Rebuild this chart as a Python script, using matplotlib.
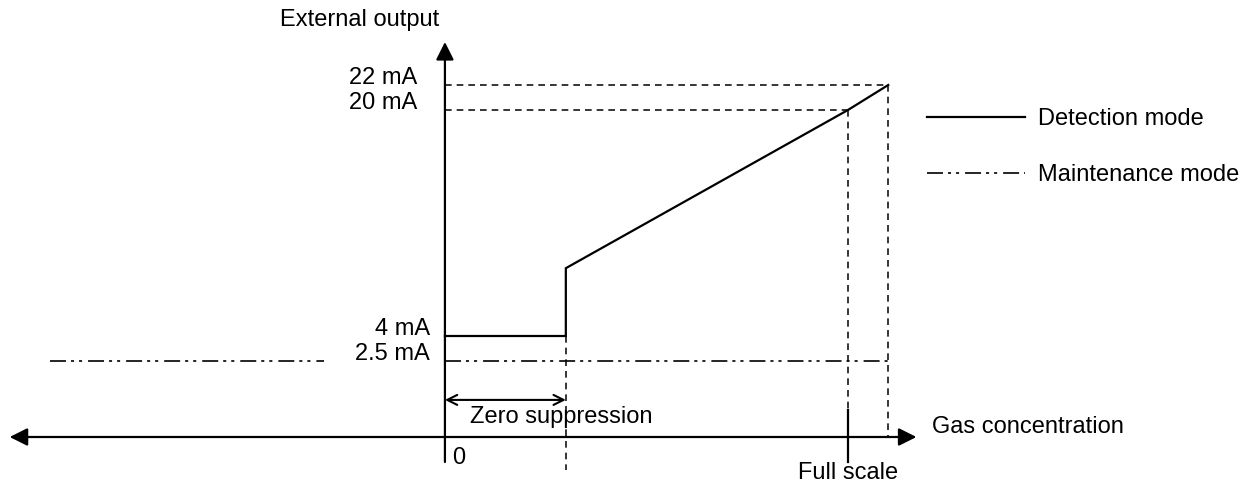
import matplotlib
matplotlib.use("Agg")
import matplotlib.pyplot as plt  # noqa: E402
import numpy as np  # noqa: E402

plt.rcParams["font.family"] = ["Liberation Sans", "DejaVu Sans"]
plt.rcParams["lines.scale_dashes"] = False

# gas concentration in % of full scale, external output in mA
detect_conc = [0, 30, 30, 100, 110]
detect_ma = [4, 4, 8.8, 20, 22]
maint_conc = [0, 110]
maint_conc_left = [-98, -30]
maint_ma = 2.5
level_ma = [22, 20, 4, 2.5]
level_labels = ["22 mA", "20 mA", "4 mA", "2.5 mA"]
zero_supp = 30
full_scale = 100
over_range = 110
fs_ma = 20
over_ma = 22

# schematic (not to scale) output axis: mA -> drawing height
scale_ma = [-10, 0, 2.5, 4, 20, 22, 40]
scale_h = [-304, 0, 76, 101, 327, 352, 577]


def fwd(v):
    return np.interp(v, scale_ma, scale_h)


def inv(h):
    return np.interp(h, scale_h, scale_ma)


fig = plt.figure(figsize=(12.57, 4.86), dpi=100)
ax = fig.add_axes([0, 0, 1, 1])
ax.set_xlim(-110.4, 201.5)
ax.set_yscale("function", functions=(fwd, inv))
ax.set_ylim(inv(-49), inv(437))
ax.axis("off")

FS = 17
dash = dict(color="black", lw=1.1, dashes=(4.8, 3.6))
dashdot = (11.5, 3.6, 2.2, 3.6, 2.2, 4.3)

# axes
ax.annotate("", xy=(117, 0), xytext=(-108, 0),
            arrowprops=dict(arrowstyle="<|-|>", color="black", lw=1.6,
                            mutation_scale=27, shrinkA=0, shrinkB=0))
ax.annotate("", xy=(0, 25.44), xytext=(0, inv(-25)),
            arrowprops=dict(arrowstyle="-|>", color="black", lw=1.6,
                            mutation_scale=27, shrinkA=0, shrinkB=0))

# guide lines
ax.plot([0, over_range], [over_ma, over_ma], **dash)
ax.plot([0, full_scale], [fs_ma, fs_ma], **dash)
ax.plot([over_range, over_range], [over_ma, 0], **dash)
ax.plot([full_scale, full_scale], [fs_ma, inv(27)], **dash)
ax.plot([zero_supp, zero_supp], [detect_ma[1], inv(-33)], **dash)
ax.plot([full_scale, full_scale], [inv(27), inv(-25)], color="black", lw=1.6)

# modes
ax.plot(detect_conc, detect_ma, color="black", lw=1.6, label="Detection mode",
        solid_joinstyle="miter")
ax.plot(maint_conc, [maint_ma] * 2, color="black", lw=1.2, dashes=dashdot,
        label="Maintenance mode")
ax.plot(maint_conc_left, [maint_ma] * 2, color="black", lw=1.2, dashes=dashdot)

# zero suppression span
ax.annotate("", xy=(zero_supp, 1.22), xytext=(0, 1.22),
            arrowprops=dict(arrowstyle="<->", color="black", lw=1.5,
                            mutation_scale=18, shrinkA=0, shrinkB=0))
ax.text(6.2, 0.66, "Zero suppression", fontsize=FS, ha="left", va="center")

# labels
for lv, lab in zip(level_ma, level_labels):
    dx = -20 if lv > 10 else -11
    ax.annotate(lab, xy=(0, lv), xytext=(dx, 1), textcoords="offset points",
                fontsize=FS, ha="right", va="baseline")
ax.text(-21.1, 27.2, "External output", fontsize=FS, ha="center", va="center")
ax.annotate("0", xy=(0, 0), xytext=(5, -7), textcoords="offset points",
            fontsize=FS, ha="left", va="top")
ax.annotate("Full scale", xy=(full_scale, 0), xytext=(0, -18),
            textcoords="offset points", fontsize=FS, ha="center", va="top")
ax.annotate("Gas concentration", xy=(117, 0), xytext=(11, 3),
            textcoords="offset points", fontsize=FS, ha="left", va="baseline")

ax.legend(loc="upper left", bbox_to_anchor=(927 / 1257, 1 - 108 / 486),
          frameon=False, fontsize=FS, handlelength=4.15, handletextpad=0.55,
          labelspacing=1.45, borderpad=0, borderaxespad=0)

fig.savefig("out.png", dpi=100)
plt.close(fig)
